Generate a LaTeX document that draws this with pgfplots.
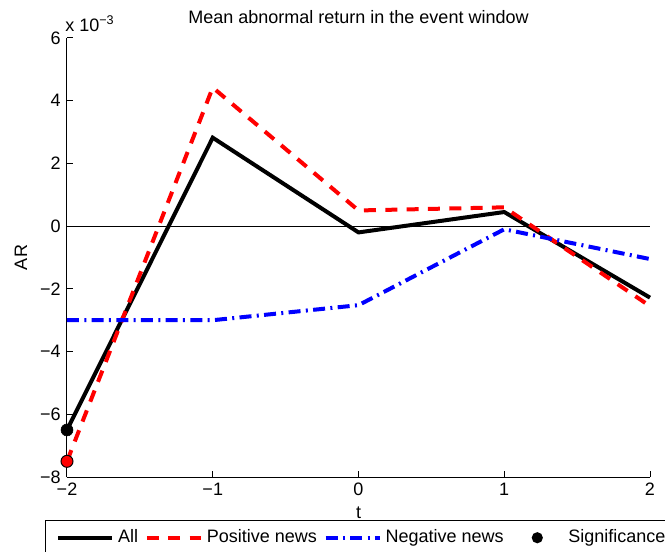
\documentclass[border=0pt]{standalone}
\usepackage{fontspec}
\setmainfont{Liberation Sans}
\usepackage{pgfplots}
\pgfplotsset{compat=1.18}

\begin{document}
\fontsize{13.5}{16}\selectfont
\begin{tikzpicture}
\begin{axis}[
    scale only axis,
    width=437.25pt, height=329.25pt,
    xmin=-2, xmax=2, ymin=-8, ymax=6,
    axis x line*=bottom, axis y line*=left,
    axis line style={line width=0.75pt},
    xtick={-2,-1,0,1,2}, xticklabels={−2,−1,0,1,2},
    ytick={-8,-6,-4,-2,0,2,4,6}, yticklabels={−8,−6,−4,−2,0,2,4,6},
    tick align=inside, major tick length=4.5pt,
    tick style={black, line width=0.75pt},
    clip=false,
    title={Mean abnormal return in the event window},
    title style={at={(axis description cs:0.5,1.0153)}, anchor=base, inner sep=0pt},
    xlabel={t},
    xlabel style={at={(axis description cs:0.5,-0.0934)}, anchor=base, inner sep=0pt},
    ylabel={AR},
    ylabel style={at={(axis description cs:-0.0686,0.5)}, anchor=base, inner sep=0pt},
    legend columns=4,
    legend style={at={(axis description cs:-0.0377,-0.098)}, anchor=north west,
        draw=black, line width=0.75pt, inner xsep=8pt, inner ysep=7pt,
        /tikz/every odd column/.append style={column sep=3pt},
        /tikz/every even column/.append style={column sep=5pt},
        nodes={inner sep=0pt}, cells={anchor=west}},
    legend image code/.code={
        \path[draw=none, fill=none] (0pt,-1pt) rectangle (40.5pt,1pt);
        \draw[#1, line width=3pt] (0pt,0pt) -- (40.5pt,0pt);
    },
]

% zero line
\addplot[forget plot, black, line width=0.75pt] coordinates {(-2,0) (2,0)};

\addplot[black, line width=3pt] coordinates {
    (-2,-6.5) (-1,2.82) (0,-0.2) (1,0.45) (2,-2.28)
};
\addlegendentry{All}

\addplot[red, line width=3pt, dash pattern=on 9pt off 7pt] coordinates {
    (-2,-7.5) (-1,4.42) (0,0.5) (1,0.6) (2,-2.55)
};
\addlegendentry{Positive news}

\addplot[blue, line width=3pt, dash pattern=on 9pt off 4pt on 1.5pt off 4pt] coordinates {
    (-2,-3.0) (-1,-3.0) (0,-2.52) (1,-0.1) (2,-1.05)
};
\addlegendentry{Negative news}

\addplot[only marks, mark=*, mark size=4.5pt, black,
    legend image code/.code={
        \path[draw=none, fill=none] (0pt,-1pt) rectangle (40.5pt,1pt);
        \fill[black, draw=none] (20.25pt,0pt) circle (4.2pt);
    }] coordinates {(-2,-6.5)};
\addlegendentry{Significance}

\addplot[forget plot, only marks, mark=*, mark size=4.5pt, draw=black, fill=red, line width=0.75pt] coordinates {(-2,-7.5)};

\node[anchor=base west, inner sep=0pt] at (axis description cs:-0.0034,1.015) {x 10\textsuperscript{−3}};
\end{axis}
\pgfresetboundingbox
\path[use as bounding box] (-50.25pt,-55.5pt) rectangle (448.5pt,357.75pt);
\end{tikzpicture}
\end{document}
